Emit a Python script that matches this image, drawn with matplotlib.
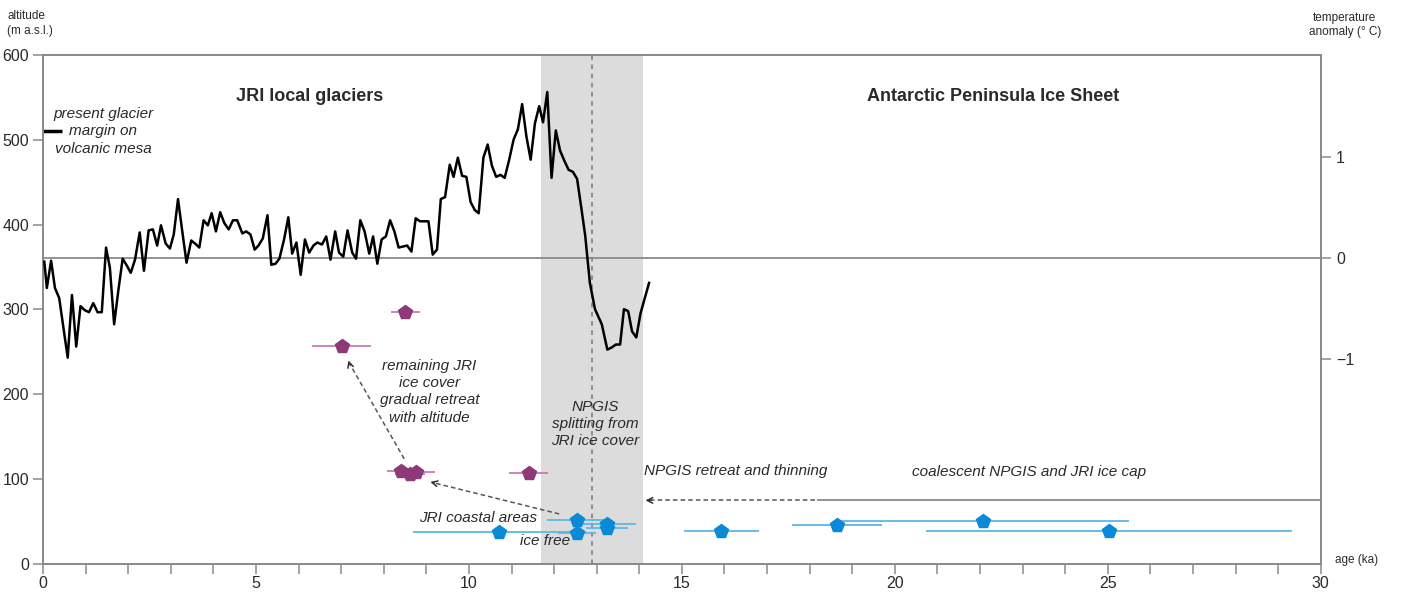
import matplotlib.pyplot as plt

plt.rcParams['font.family'] = ['Liberation Sans', 'DejaVu Sans']

# temperature anomaly record (deg C) vs age (ka)
temp_age = [0.03, 0.09, 0.19, 0.28, 0.38, 0.58, 0.68, 0.78, 0.88, 0.98,
            1.08, 1.18, 1.28, 1.38, 1.48, 1.57, 1.67, 1.77, 1.87, 1.97,
            2.06, 2.16, 2.27, 2.37, 2.48, 2.58, 2.68, 2.77, 2.88, 2.98,
            3.07, 3.17, 3.27, 3.37, 3.48, 3.57, 3.67, 3.77, 3.87, 3.96,
            4.06, 4.16, 4.26, 4.36, 4.46, 4.56, 4.68, 4.77, 4.87, 4.97,
            5.06, 5.16, 5.27, 5.36, 5.46, 5.55, 5.66, 5.76, 5.85, 5.95,
            6.05, 6.15, 6.25, 6.35, 6.44, 6.55, 6.65, 6.75, 6.86, 6.95,
            7.05, 7.15, 7.26, 7.35, 7.45, 7.55, 7.66, 7.75, 7.85, 7.95,
            8.05, 8.15, 8.25, 8.35, 8.45, 8.55, 8.65, 8.75, 8.85, 8.95,
            9.05, 9.15, 9.25, 9.34, 9.44, 9.55, 9.64, 9.74, 9.84, 9.94,
            10.04, 10.14, 10.23, 10.34, 10.44, 10.54, 10.64, 10.74, 10.84, 10.94,
            11.05, 11.15, 11.25, 11.35, 11.45, 11.55, 11.65, 11.74, 11.84, 11.94,
            12.04, 12.14, 12.24, 12.34, 12.44, 12.54, 12.64, 12.73, 12.84, 12.96,
            13.12, 13.25, 13.35, 13.45, 13.55, 13.64, 13.74, 13.83, 13.93, 14.03,
            14.23]
temp_anom = [-0.04, -0.30, -0.03, -0.30, -0.40, -0.99, -0.37, -0.88, -0.48, -0.52,
             -0.54, -0.45, -0.54, -0.54, 0.10, -0.10, -0.66, -0.32, -0.01, -0.08,
             -0.15, -0.02, 0.25, -0.13, 0.27, 0.28, 0.12, 0.32, 0.14, 0.09,
             0.23, 0.58, 0.26, -0.05, 0.17, 0.14, 0.10, 0.37, 0.32, 0.44,
             0.26, 0.45, 0.34, 0.28, 0.37, 0.37, 0.24, 0.26, 0.23, 0.08,
             0.12, 0.19, 0.42, -0.07, -0.06, -0.01, 0.18, 0.40, 0.04, 0.15,
             -0.17, 0.18, 0.05, 0.12, 0.15, 0.13, 0.21, -0.02, 0.26, 0.05,
             0.01, 0.27, 0.05, -0.01, 0.37, 0.26, 0.04, 0.21, -0.06, 0.18,
             0.21, 0.37, 0.26, 0.10, 0.11, 0.12, 0.06, 0.39, 0.36, 0.36,
             0.36, 0.03, 0.08, 0.58, 0.60, 0.92, 0.80, 0.99, 0.81, 0.80,
             0.55, 0.47, 0.44, 0.99, 1.12, 0.91, 0.80, 0.82, 0.79, 0.96,
             1.17, 1.27, 1.52, 1.20, 0.97, 1.33, 1.50, 1.34, 1.64, 0.79,
             1.26, 1.06, 0.96, 0.87, 0.85, 0.78, 0.49, 0.22, -0.25, -0.51,
             -0.66, -0.91, -0.89, -0.86, -0.86, -0.51, -0.53, -0.73, -0.79, -0.55,
             -0.25]

# exposure ages, JRI local glaciers (age ka, altitude m, 1 sigma)
jri_age = [8.51, 7.01, 8.41, 8.62, 8.76, 11.40]
jri_alt = [297, 257, 110, 106, 109, 107]
jri_err = [0.33, 0.69, 0.34, 0.35, 0.45, 0.45]

# exposure ages, JRI coastal areas / NPGIS
coast_age = [12.53, 13.25, 13.24, 12.53, 10.71, 15.93, 18.64, 22.07, 25.03]
coast_alt = [52, 47, 43, 36, 38, 39, 46, 51, 39]
coast_err = [0.70, 0.67, 0.50, 0.45, 2.03, 0.89, 1.05, 3.43, 4.30]

spine_col = '#8a8a8a'
txt_col = '#2a2a2a'

fig = plt.figure(figsize=(14.01, 5.94), dpi=100)
ax = fig.add_axes([0.0307, 0.0505, 0.912, 0.857])
ax2 = ax.twinx()

ax.set_xlim(0, 30)
ax.set_ylim(0, 600)
ax2.set_ylim(-3.033, 2.007)

# shaded interval and NPGIS splitting date
ax.axvspan(11.7, 14.08, color='#dcdcdc', zorder=0, lw=0)
ax.axvline(12.89, color='#777777', lw=1.1, ls=(0, (3, 3)), zorder=1)

ax2.axhline(0, color=spine_col, lw=1.3, zorder=1)
ax2.plot(temp_age, temp_anom, color='black', lw=1.8, zorder=3)

# present glacier margin marker
ax.plot([0.0, 0.45], [510, 510], color='black', lw=2.5, solid_capstyle='butt')

ax.errorbar(jri_age, jri_alt, xerr=jri_err, fmt='p', color='#8c3a78',
            ecolor='#c77bb6', elinewidth=1.3, markersize=10.5, capsize=0, zorder=4)
ax.errorbar(coast_age, coast_alt, xerr=coast_err, fmt='p', color='#0a8ad6',
            ecolor='#5ab7e8', elinewidth=1.3, markersize=10.5, capsize=0, zorder=4)

# NPGIS ice cap limit
ax.plot([18.2, 30], [75, 75], color=spine_col, lw=1.3, zorder=2)
ax.plot([14.25, 18.2], [75, 75], color='#555555', lw=1.1, ls=(0, (3, 2)))
ax.annotate('', xy=(14.08, 75), xytext=(14.35, 75),
            arrowprops=dict(arrowstyle='->', color='#333333', lw=1.1))

# dashed arrows showing retreat path
ax.plot([8.48, 7.20], [124, 236], color='#555555', lw=1.1, ls=(0, (3, 2)))
ax.annotate('', xy=(7.15, 243), xytext=(7.22, 232),
            arrowprops=dict(arrowstyle='->', color='#333333', lw=1.1))
ax.plot([12.12, 9.15], [59, 96], color='#555555', lw=1.1, ls=(0, (3, 2)))
ax.annotate('', xy=(9.03, 97.5), xytext=(9.25, 94.8),
            arrowprops=dict(arrowstyle='->', color='#333333', lw=1.1))

for a in (ax, ax2):
    for s in a.spines.values():
        s.set_color(spine_col)
        s.set_linewidth(1.3)

ax.set_xticks(range(0, 31))
ax.set_xticklabels([str(i) if i % 5 == 0 else '' for i in range(0, 31)])
ax.set_yticks(range(0, 601, 100))
ax2.set_yticks([-1, 0, 1])
ax2.set_yticklabels(['\u22121', '0', '1'])
ax.tick_params(axis='both', direction='out', length=7, width=1.1,
               color=spine_col, labelsize=11.5, labelcolor=txt_col, pad=3)
ax.tick_params(axis='x', pad=1.5)
ax2.tick_params(axis='y', direction='out', length=7, width=1.1,
                color=spine_col, labelsize=11.5, labelcolor=txt_col, pad=4)

ax.text(6.26, 551, 'JRI local glaciers', ha='center', va='center',
        fontsize=13, fontweight='bold', color=txt_col)
ax.text(22.3, 551, 'Antarctic Peninsula Ice Sheet', ha='center', va='center',
        fontsize=13, fontweight='bold', color=txt_col)

it = dict(style='italic', fontsize=11, color=txt_col, ha='center', va='center',
          linespacing=1.3)
ax.text(1.41, 510, 'present glacier\nmargin on\nvolcanic mesa', **it)
ax.text(9.07, 203, 'remaining JRI\nice cover\ngradual retreat\nwith altitude', **it)
ax.text(12.97, 165, 'NPGIS\nsplitting from\nJRI ice cover', **it)
ax.text(14.1, 110, 'NPGIS retreat and thinning', style='italic', fontsize=11,
        color=txt_col, ha='left', va='center')
ax.text(20.4, 108, 'coalescent NPGIS and JRI ice cap', style='italic',
        fontsize=11, color=txt_col, ha='left', va='center')
ax.text(11.6, 54, 'JRI coastal areas', style='italic', fontsize=11,
        color=txt_col, ha='right', va='center')
ax.text(11.79, 27, 'ice free', style='italic', fontsize=11, color=txt_col,
        ha='center', va='center')

fig.text(0.005, 0.96, 'altitude\n(m a.s.l.)', fontsize=8.5, color=txt_col,
         ha='left', va='center', linespacing=1.35)
fig.text(0.96, 0.958, 'temperature\nanomaly (\u00b0 C)', fontsize=8.5,
         color=txt_col, ha='center', va='center', linespacing=1.3)
fig.text(0.953, 0.057, 'age (ka)', fontsize=8.5, color=txt_col,
         ha='left', va='center')

fig.savefig('out.png', dpi=100)
